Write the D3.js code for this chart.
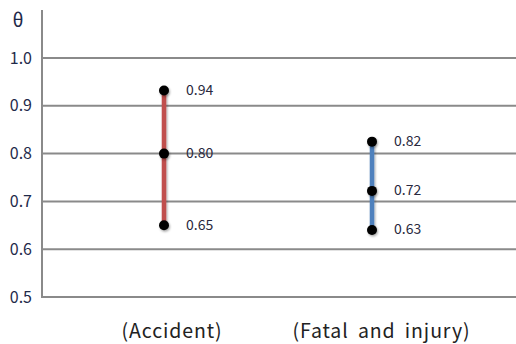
<!DOCTYPE html>
<html><head><meta charset="utf-8">
<script src="https://cdn.jsdelivr.net/npm/d3@7"></script>
<style>body{margin:0;background:#fff}svg{display:block}</style>
</head><body>
<script>
const categories = ["(Accident)", "(Fatal and injury)"];
const pointValues = [[0.932, 0.80, 0.65], [0.825, 0.722, 0.640]];
const pointLabels = [["0.94", "0.80", "0.65"], ["0.82", "0.72", "0.63"]];
const seriesColors = ["#c0504d", "#4f81bd"];
const yTicks = [0.5, 0.6, 0.7, 0.8, 0.9, 1.0];

const W = 516, H = 344;
const svg = d3.select("body").append("svg").attr("width", W).attr("height", H);
const y = d3.scaleLinear().domain([0.5, 1.0]).range([297, 58]);
const x = d3.scalePoint().domain(categories).range([164, 372]);
const font = "'Noto Sans CJK KR', 'Noto Sans', sans-serif";

svg.append("g").selectAll("line").data(yTicks).join("line")
  .attr("x1", 42).attr("x2", W).attr("y1", d => y(d)).attr("y2", d => y(d))
  .attr("stroke", "#8a8a8a").attr("stroke-width", 2);
svg.append("line").attr("x1", 42).attr("x2", 42).attr("y1", 10).attr("y2", 298)
  .attr("stroke", "#8a8a8a").attr("stroke-width", 2);
svg.append("g").selectAll("text").data(yTicks).join("text")
  .attr("x", 32).attr("y", d => y(d)).attr("dy", "0.35em").attr("text-anchor", "end")
  .attr("font-family", font).attr("font-size", 16).attr("fill", "#1f2a4a")
  .text(d => d.toFixed(1));
svg.append("text").attr("x", 18).attr("y", 20).attr("dy", "0.35em").attr("text-anchor", "middle")
  .attr("font-family", font).attr("font-size", 19).attr("fill", "#1f2a4a").text("θ");

const defs = svg.append("defs");
const f = defs.append("filter").attr("id", "sh").attr("filterUnits", "userSpaceOnUse")
  .attr("x", 0).attr("y", 0).attr("width", W).attr("height", H);
f.append("feDropShadow").attr("dx", 1).attr("dy", 1.5).attr("stdDeviation", 1.2).attr("flood-color", "#000").attr("flood-opacity", 0.35);

categories.forEach((c, i) => {
  const g = svg.append("g");
  const vals = pointValues[i];
  g.append("line").attr("x1", x(c)).attr("x2", x(c))
    .attr("y1", y(d3.max(vals))).attr("y2", y(d3.min(vals)))
    .attr("stroke", seriesColors[i]).attr("stroke-width", 4.5).attr("filter", "url(#sh)");
  g.selectAll("circle").data(vals).join("circle")
    .attr("cx", x(c)).attr("cy", d => y(d)).attr("r", 5).attr("fill", "#000").attr("filter", "url(#sh)");
  g.selectAll("text").data(vals).join("text")
    .attr("x", x(c) + 22).attr("y", d => y(d)).attr("dy", "0.3em")
    .attr("font-family", font).attr("font-size", 14).attr("fill", "#2a2a40")
    .text((d, j) => pointLabels[i][j]);
  svg.append("text").attr("x", x(c) + (i === 0 ? 8 : 9.5)).attr("y", 331).attr("dy", "0.35em")
    .attr("text-anchor", "middle").attr("font-family", font).attr("font-size", 19.5).attr("fill", "#222")
    .attr("word-spacing", 4).attr("letter-spacing", 0.9)
    .text(c);
});
</script>
</body></html>
